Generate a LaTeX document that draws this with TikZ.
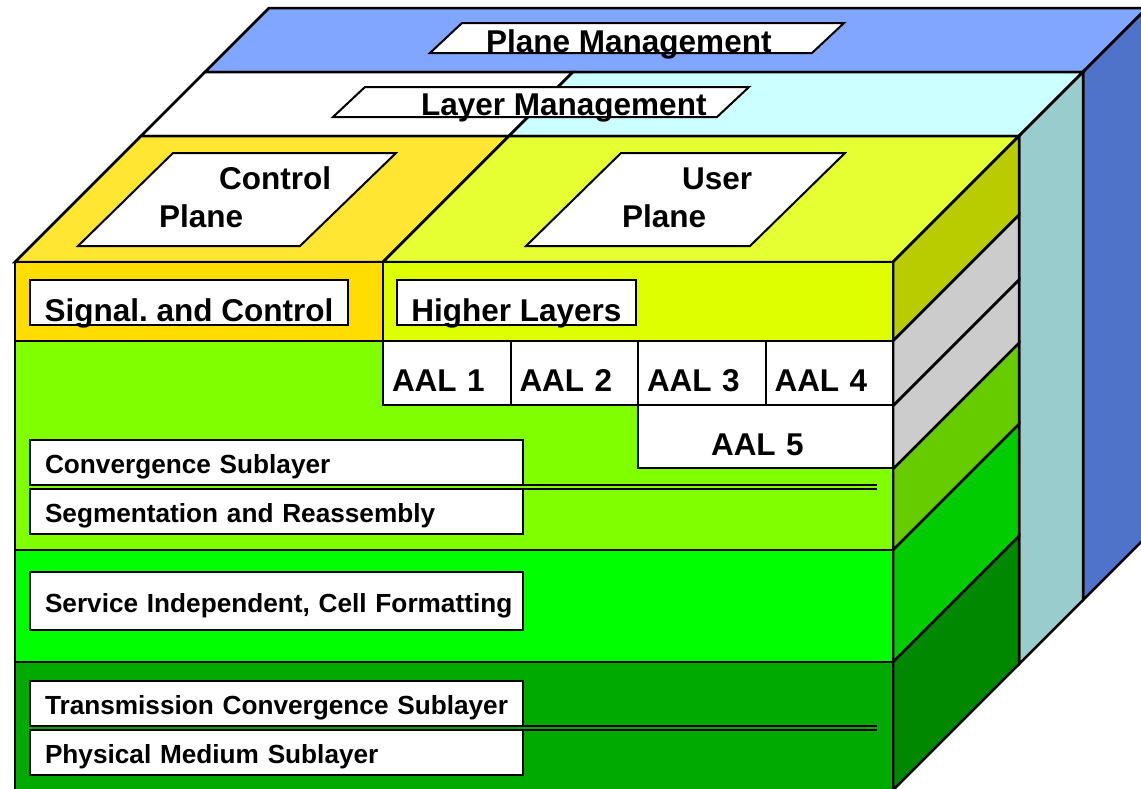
\documentclass[tikz,border=0pt]{standalone}
\usepackage{fontspec}
\setmainfont{Liberation Sans}
\usetikzlibrary{positioning}
\frenchspacing

\definecolor{pmtop}{HTML}{80A6FF}
\definecolor{pmside}{HTML}{4F73C9}
\definecolor{lmtop}{HTML}{CCFFFF}
\definecolor{lmside}{HTML}{99CCCC}
\definecolor{cptop}{HTML}{FFE633}
\definecolor{cpfront}{HTML}{FFDD00}
\definecolor{uptop}{HTML}{E6FF33}
\definecolor{upfront}{HTML}{DDFF00}
\definecolor{upside}{HTML}{B8CC00}
\definecolor{aalside}{HTML}{CCCCCC}
\definecolor{aalfront}{HTML}{80FF00}
\definecolor{aalgreen}{HTML}{66CC00}
\definecolor{atmfront}{HTML}{00FF00}
\definecolor{atmside}{HTML}{00CC00}
\definecolor{phyfront}{HTML}{00AA00}
\definecolor{physide}{HTML}{008800}

\begin{document}
\begin{tikzpicture}[x=1pt, y=-1pt, line join=miter,
    face/.style={draw=black, line width=2.5pt},
    slab/.style={draw=black, line width=2pt, fill=white},
    big/.style={font=\fontsize{31.5}{38}\selectfont\bfseries},
    small/.style={font=\fontsize{26.2}{30}\selectfont\bfseries},
    hdrbox/.style={draw, fill=white, line width=2pt, outer sep=0pt, big,
      minimum height=45pt, inner xsep=0pt, inner ysep=2pt,
      text height=39.7pt, text depth=1.3pt},
    aalbox/.style={draw, fill=white, line width=2pt, outer sep=0pt, big, align=left,
      minimum height=64pt, inner xsep=9pt, inner ysep=2pt, text width=109.5pt,
      text height=48.5pt, text depth=11.5pt},
    subbox/.style={draw, fill=white, line width=2pt, outer sep=0pt, small, align=left,
      minimum height=45pt, inner xsep=8pt, text width=477pt,
      text height=22pt, text depth=0pt, execute at begin node={\hspace*{7pt}}},
    dbl/.style={draw=black, line width=2pt}
  ]
  \useasboundingbox (0,0) rectangle (1141,788);
  \clip (0,0) rectangle (1141,788);

  % plane management slab
  \draw[face, fill=pmtop] (205,72) -- (269,8) -- (1147,8) -- (1083,72) -- cycle;
  \draw[face, fill=pmside] (1083,72) -- (1147,8) -- (1147,536) -- (1083,600) -- cycle;

  % layer management slab
  \draw[face, fill=white] (141,136) -- (205,72) -- (573,72) -- (509,136) -- cycle;
  \draw[face, fill=lmtop] (509,136) -- (573,72) -- (1083,72) -- (1019,136) -- cycle;
  \draw[face, fill=lmside] (1019,136) -- (1083,72) -- (1083,600) -- (1019,664) -- cycle;

  % control and user planes on top
  \draw[face, fill=cptop] (15,262) -- (141,136) -- (509,136) -- (383,262) -- cycle;
  \draw[face, fill=uptop] (383,262) -- (509,136) -- (1019,136) -- (893,262) -- cycle;

  \foreach \a/\b/\c in {262/341/upside, 341/406/aalside, 406/469/aalside,
      469/550/aalgreen, 550/662/atmside, 662/790/physide}
    \draw[face, fill=\c] (893,\a) -- ++(126,-126) -- (1019,\b-126) -- (893,\b) -- cycle;

  \draw[face, fill=cpfront] (15,262) rectangle (383,341);
  \draw[face, fill=upfront] (383,262) rectangle (893,341);
  \draw[face, fill=aalfront] (15,341) rectangle (893,550);
  \draw[face, fill=atmfront] (15,550) rectangle (893,662);
  \draw[face, fill=phyfront] (15,662) rectangle (893,790);

  \draw[slab] (462,23) -- (844,23) -- (812,53) -- (430,53) -- cycle;
  \draw[slab] (365,87) -- (749,87) -- (717,117) -- (333,117) -- cycle;
  \draw[slab] (173,153) -- (396,153) -- (300,246) -- (78,246) -- cycle;
  \draw[slab] (621,153) -- (845,153) -- (750,246) -- (526,246) -- cycle;

  \node (pmtxt) [big, anchor=base west, inner sep=0pt] at (486,52) {Plane Management};
  \node (lmtxt) [big, anchor=base west, inner sep=0pt] at (421,115) {Layer Management};
  \node (cptxt) [big, anchor=base west, inner sep=0pt] at (219,189) {Control};
  \node (cpltxt) [big, anchor=base west, inner sep=0pt] at (159,227) {Plane};
  \node (uptxt) [big, anchor=base west, inner sep=0pt] at (682,189) {User};
  \node (upltxt) [big, anchor=base west, inner sep=0pt] at (622,227) {Plane};

  \node (sigctl) [hdrbox, minimum width=318pt, anchor=north west] at (30,280) {Signal. and Control};
  \node (higher) [hdrbox, minimum width=239pt, right=49pt of sigctl] {Higher Layers};

  \node (aal1) [aalbox, anchor=north west] at (383,341) {AAL 1};
  \node (aal2) [aalbox, right=0pt of aal1] {AAL 2};
  \node (aal3) [aalbox, right=0pt of aal2] {AAL 3};
  \node (aal4) [aalbox, right=0pt of aal3] {AAL 4};
  \node (aal5) [aalbox, minimum height=63pt, inner xsep=73pt, text width=109pt,
    text height=48pt, text depth=11pt, anchor=north west] at (aal3.south west) {AAL 5};

  \node (cs) [subbox, anchor=north west] at (30,440) {Convergence Sublayer};
  \node (sar) [subbox, below=4pt of cs] {Segmentation and Reassembly};
  \node (sic) [subbox, minimum height=58pt, anchor=north west] at (30,572) {Service Independent, Cell Formatting};
  \node (tc) [subbox, anchor=north west] at (30,681) {Transmission Convergence Sublayer};
  \node (pmd) [subbox, below=4pt of tc] {Physical Medium Sublayer};

  \coordinate (rim) at (877,0);
  \draw[dbl] (cs.south east) -- (cs.south east -| rim);
  \draw[dbl] (sar.north east) -- (sar.north east -| rim);
  \draw[dbl] (tc.south east) -- (tc.south east -| rim);
  \draw[dbl] (pmd.north east) -- (pmd.north east -| rim);
\end{tikzpicture}
\end{document}
